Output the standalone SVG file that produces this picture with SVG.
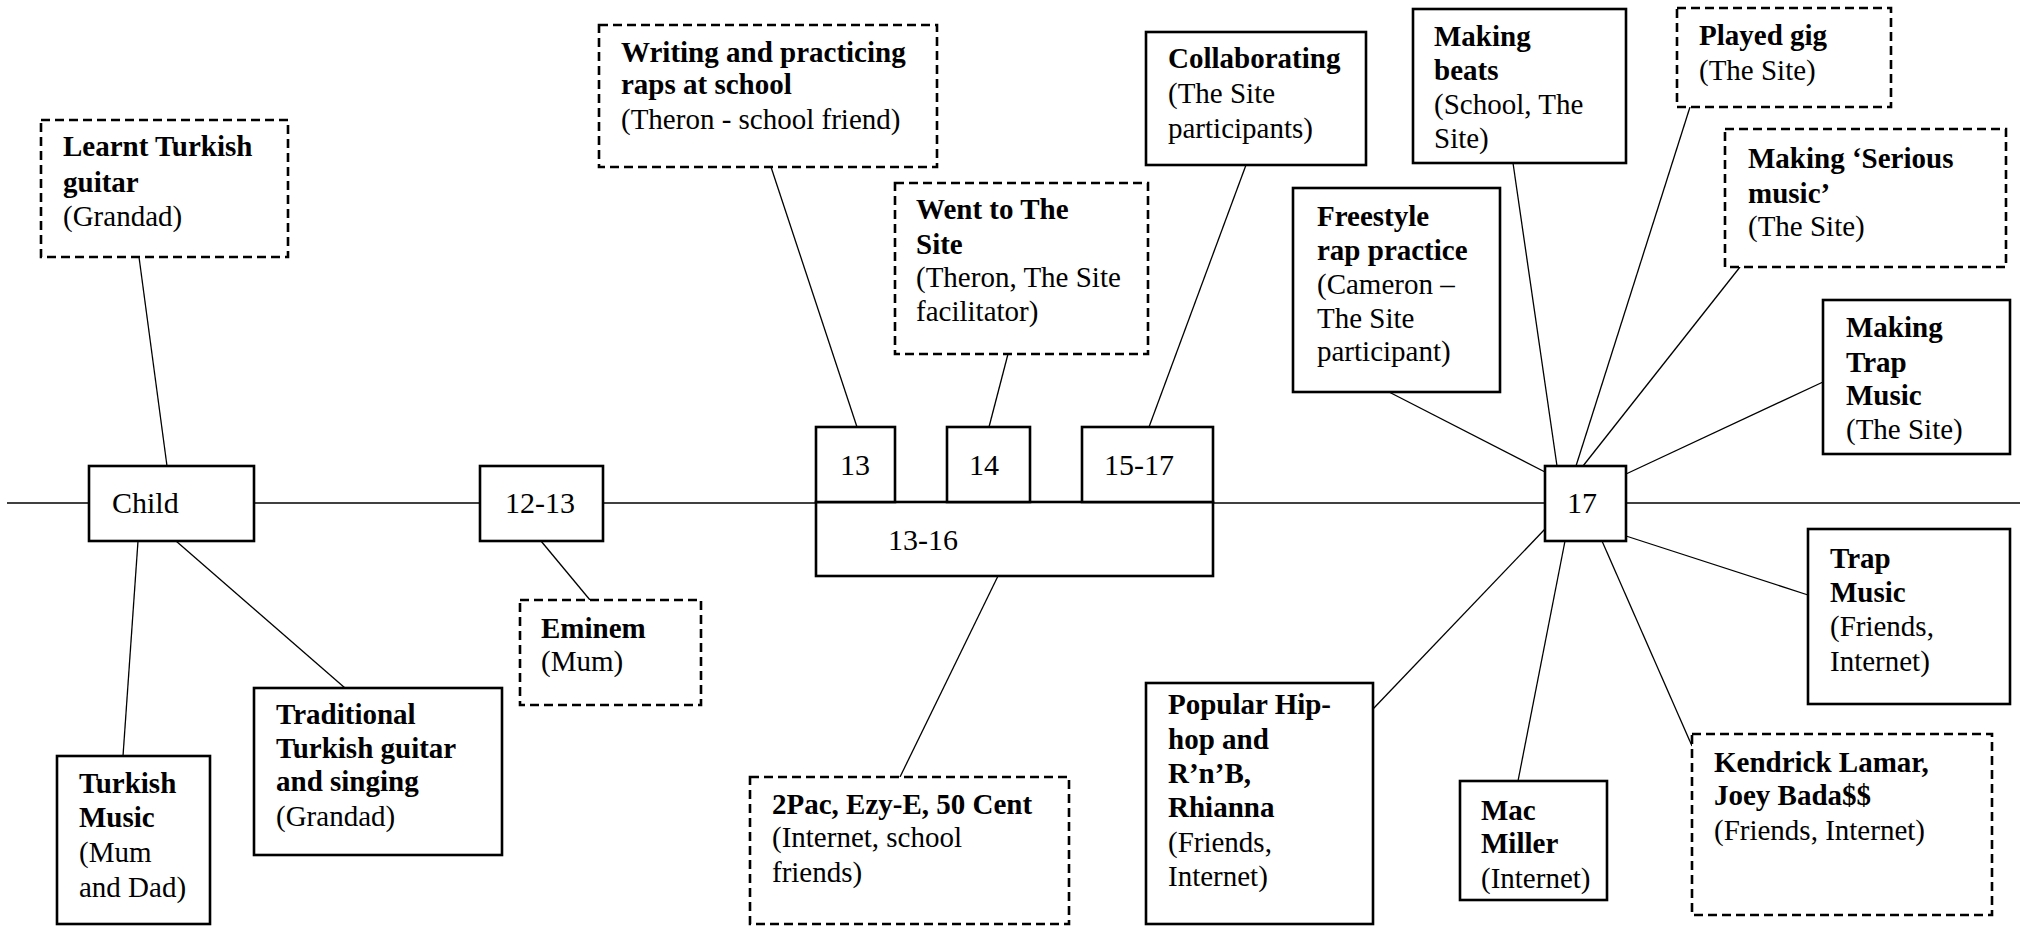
<svg xmlns="http://www.w3.org/2000/svg" width="2024" height="928" viewBox="0 0 2024 928">
<style>
.box{fill:#fff;stroke:#000;stroke-width:2.6}
.dash{fill:#fff;stroke:#000;stroke-width:2.6;stroke-dasharray:9 5}
.ln{stroke:#000;stroke-width:1.3;fill:none}
</style>
<rect width="2024" height="928" fill="#fff"/>
<g id="connectors">
<line class="ln" x1="7" y1="503" x2="2020" y2="503"/>
<line class="ln" x1="139" y1="257" x2="167" y2="466"/>
<line class="ln" x1="138" y1="541" x2="123" y2="756"/>
<line class="ln" x1="176" y1="541" x2="345" y2="688"/>
<line class="ln" x1="541" y1="541" x2="590" y2="600"/>
<line class="ln" x1="771" y1="167" x2="857" y2="427"/>
<line class="ln" x1="1008" y1="354" x2="989" y2="427"/>
<line class="ln" x1="1246" y1="165" x2="1149" y2="427"/>
<line class="ln" x1="998" y1="576" x2="900" y2="777"/>
<line class="ln" x1="1513" y1="163" x2="1557" y2="466"/>
<line class="ln" x1="1690" y1="107" x2="1576" y2="466"/>
<line class="ln" x1="1740" y1="267" x2="1583" y2="466"/>
<line class="ln" x1="1389" y1="392" x2="1545" y2="472"/>
<line class="ln" x1="1823" y1="382" x2="1626" y2="474"/>
<line class="ln" x1="1626" y1="536" x2="1808" y2="595"/>
<line class="ln" x1="1602" y1="541" x2="1692" y2="746"/>
<line class="ln" x1="1565" y1="541" x2="1518" y2="781"/>
<line class="ln" x1="1373" y1="709" x2="1545" y2="529"/>
</g>
<g font-family="Liberation Serif" font-size="29" fill="#000">
<g id="learnt"><rect class="dash" x="41" y="120" width="247" height="137"/>
<text x="63"><tspan font-weight="bold" y="156">Learnt Turkish</tspan><tspan font-weight="bold" x="63" y="192">guitar</tspan><tspan x="63" y="226">(Grandad)</tspan></text></g>
<g id="child"><rect class="box" x="89" y="466" width="165" height="75"/><text font-size="30" x="112" y="513">Child</text></g>
<g id="turkishMusic"><rect class="box" x="57" y="756" width="153" height="168"/>
<text x="79"><tspan font-weight="bold" y="793">Turkish</tspan><tspan font-weight="bold" x="79" y="827">Music</tspan><tspan x="79" y="862">(Mum</tspan><tspan x="79" y="897">and Dad)</tspan></text></g>
<g id="traditional"><rect class="box" x="254" y="688" width="248" height="167"/>
<text x="276"><tspan font-weight="bold" y="724">Traditional</tspan><tspan font-weight="bold" x="276" y="758">Turkish guitar</tspan><tspan font-weight="bold" x="276" y="791">and singing</tspan><tspan x="276" y="826">(Grandad)</tspan></text></g>
<g id="age1213"><rect class="box" x="480" y="466" width="123" height="75"/><text font-size="30" x="505" y="513">12-13</text></g>
<g id="eminem"><rect class="dash" x="520" y="600" width="181" height="105"/>
<text x="541"><tspan font-weight="bold" y="638">Eminem</tspan><tspan x="541" y="671">(Mum)</tspan></text></g>
<g id="age1316"><rect class="box" x="816" y="502" width="397" height="74"/><text font-size="30" x="888" y="550">13-16</text></g>
<g id="age13"><rect class="box" x="816" y="427" width="79" height="75"/><text font-size="30" x="840" y="475">13</text></g>
<g id="age14"><rect class="box" x="947" y="427" width="83" height="75"/><text font-size="30" x="969" y="475">14</text></g>
<g id="age1517"><rect class="box" x="1082" y="427" width="131" height="75"/><text font-size="30" x="1104" y="475">15-17</text></g>
<g id="writing"><rect class="dash" x="599" y="25" width="338" height="142"/>
<text x="621"><tspan font-weight="bold" y="62">Writing and practicing</tspan><tspan font-weight="bold" x="621" y="94">raps at school</tspan><tspan x="621" y="129">(Theron - school friend)</tspan></text></g>
<g id="went"><rect class="dash" x="895" y="183" width="253" height="171"/>
<text x="916"><tspan font-weight="bold" y="219">Went to The</tspan><tspan font-weight="bold" x="916" y="254">Site</tspan><tspan x="916" y="287">(Theron, The Site</tspan><tspan x="916" y="321">facilitator)</tspan></text></g>
<g id="collab"><rect class="box" x="1146" y="32" width="220" height="133"/>
<text x="1168"><tspan font-weight="bold" y="68">Collaborating</tspan><tspan x="1168" y="103">(The Site</tspan><tspan x="1168" y="138">participants)</tspan></text></g>
<g id="pac"><rect class="dash" x="750" y="777" width="319" height="147"/>
<text x="772"><tspan font-weight="bold" y="814">2Pac, Ezy-E, 50 Cent</tspan><tspan x="772" y="847">(Internet, school</tspan><tspan x="772" y="882">friends)</tspan></text></g>
<g id="age17"><rect class="box" x="1545" y="466" width="81" height="75"/><text font-size="30" x="1567" y="513">17</text></g>
<g id="freestyle"><rect class="box" x="1293" y="188" width="207" height="204"/>
<text x="1317"><tspan font-weight="bold" y="226">Freestyle</tspan><tspan font-weight="bold" x="1317" y="260">rap practice</tspan><tspan x="1317" y="294">(Cameron –</tspan><tspan x="1317" y="328">The Site</tspan><tspan x="1317" y="361">participant)</tspan></text></g>
<g id="beats"><rect class="box" x="1413" y="9" width="213" height="154"/>
<text x="1434"><tspan font-weight="bold" y="46">Making</tspan><tspan font-weight="bold" x="1434" y="80">beats</tspan><tspan x="1434" y="114">(School, The</tspan><tspan x="1434" y="148">Site)</tspan></text></g>
<g id="gig"><rect class="dash" x="1677" y="8" width="214" height="99"/>
<text x="1699"><tspan font-weight="bold" y="45">Played gig</tspan><tspan x="1699" y="80">(The Site)</tspan></text></g>
<g id="serious"><rect class="dash" x="1725" y="129" width="281" height="138"/>
<text x="1748"><tspan font-weight="bold" y="168">Making ‘Serious</tspan><tspan font-weight="bold" x="1748" y="203">music’</tspan><tspan x="1748" y="236">(The Site)</tspan></text></g>
<g id="makingTrap"><rect class="box" x="1823" y="300" width="187" height="154"/>
<text x="1846"><tspan font-weight="bold" y="337">Making</tspan><tspan font-weight="bold" x="1846" y="372">Trap</tspan><tspan font-weight="bold" x="1846" y="405">Music</tspan><tspan x="1846" y="439">(The Site)</tspan></text></g>
<g id="trap"><rect class="box" x="1808" y="529" width="202" height="175"/>
<text x="1830"><tspan font-weight="bold" y="568">Trap</tspan><tspan font-weight="bold" x="1830" y="602">Music</tspan><tspan x="1830" y="636">(Friends,</tspan><tspan x="1830" y="671">Internet)</tspan></text></g>
<g id="kendrick"><rect class="dash" x="1692" y="734" width="300" height="181"/>
<text x="1714"><tspan font-weight="bold" y="772">Kendrick Lamar,</tspan><tspan font-weight="bold" x="1714" y="805">Joey Bada$$</tspan><tspan x="1714" y="840">(Friends, Internet)</tspan></text></g>
<g id="mac"><rect class="box" x="1460" y="781" width="147" height="119"/>
<text x="1481"><tspan font-weight="bold" y="820">Mac</tspan><tspan font-weight="bold" x="1481" y="853">Miller</tspan><tspan x="1481" y="888">(Internet)</tspan></text></g>
<g id="popular"><rect class="box" x="1146" y="683" width="227" height="241"/>
<text x="1168"><tspan font-weight="bold" y="714">Popular Hip-</tspan><tspan font-weight="bold" x="1168" y="749">hop and</tspan><tspan font-weight="bold" x="1168" y="783">R’n’B,</tspan><tspan font-weight="bold" x="1168" y="817">Rhianna</tspan><tspan x="1168" y="852">(Friends,</tspan><tspan x="1168" y="886">Internet)</tspan></text></g>
</g>
</svg>
